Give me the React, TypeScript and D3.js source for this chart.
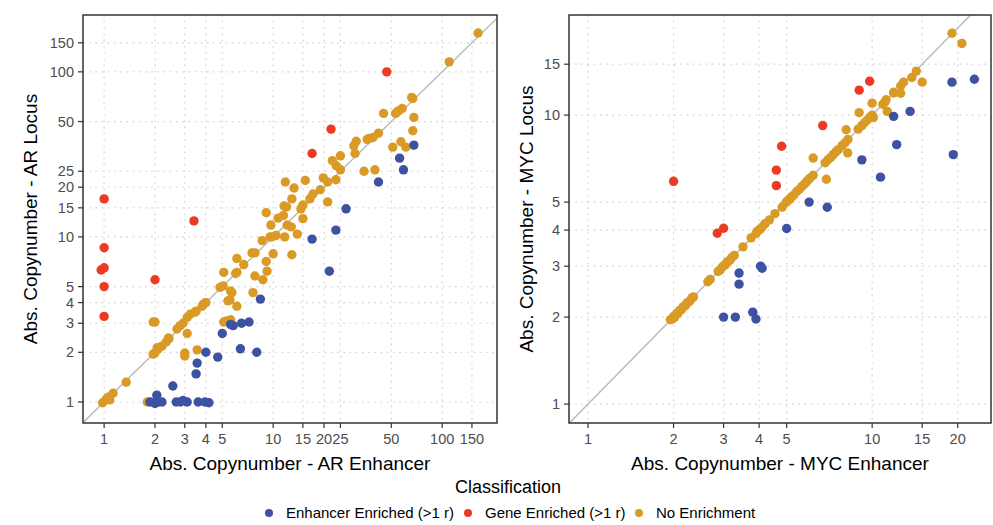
import React from "react";
import * as d3 from "d3";

// ---------- DATA ----------
const classes = ["Enhancer Enriched (>1 r)", "Gene Enriched (>1 r)", "No Enrichment"];
const classColors = ["#3D52A1", "#EE3A23", "#DA9A26"];

const arTicks = [1, 2, 3, 4, 5, 10, 15, 20, 25, 50, 100, 150];
const mycXTicks = [1, 2, 3, 4, 5, 10, 15, 20];
const mycYTicks = [1, 2, 3, 4, 5, 10, 15];

// [enhancer, locus]
const arGeneEnriched: [number, number][] = [
  [1.0, 17], [1.0, 8.6], [0.96, 6.3], [1.0, 6.5], [1.0, 5.0], [1.0, 3.3], [2.0, 5.5],
  [3.4, 12.5], [47, 100], [22, 45], [17, 32],
];
const arEnhancerEnriched: [number, number][] = [
  [68, 36], [56, 30], [59, 25.5], [42, 21.5], [27, 14.8], [23.5, 11], [17, 9.7], [21.5, 6.2],
  [8.4, 4.2], [7.2, 3.05], [6.5, 3.0], [5.8, 2.9], [5.6, 2.95], [6.4, 2.1], [8.0, 2.0], [5.0, 2.6],
  [4.0, 2.0], [4.7, 1.87], [3.55, 1.72], [3.5, 1.48], [2.55, 1.25], [1.87, 1.0], [2.0, 0.98],
  [2.05, 1.1], [2.1, 1.0], [2.2, 1.0], [2.05, 1.02], [2.67, 1.0], [2.82, 1.0], [2.93, 1.02],
  [3.1, 1.0], [3.6, 1.0], [3.95, 1.0], [4.17, 0.99],
];
const arNoEnrichment: [number, number][] = [
  [163, 172], [110, 115], [66, 70], [67, 69], [58, 60], [55, 58], [53, 56], [68, 53], [45, 56],
  [67, 44], [42, 42.5], [39, 40], [37, 39.5], [36, 39], [57, 37.7], [51, 35], [61, 35], [31, 38],
  [30, 35.6], [30.5, 32], [25, 31], [22.4, 29], [23.6, 27], [25, 25.5], [34.5, 25], [40, 25.5],
  [11.8, 21.5], [15.5, 22], [19.8, 22.8], [21, 21.5], [23.5, 22.2], [13.3, 19.8], [12.9, 17],
  [12, 15.2], [11.6, 15.4], [9.1, 14], [19, 19.3], [17.2, 18.2], [16.5, 17], [15, 15.6],
  [14.6, 14.8], [21, 16.3], [10.7, 13], [11.5, 13.5], [15, 12.9], [9.7, 11.8], [12.1, 11.8],
  [12.8, 11.5], [13.9, 10.4], [11.7, 10], [10.4, 10.2], [9.8, 10], [9.6, 10], [8.6, 9.5],
  [10, 7.9], [12.9, 7.8], [7.8, 8], [7.5, 8], [6.1, 7.4], [6.7, 6.8], [6.1, 6.1], [6.0, 6.0],
  [9.1, 7.1], [9.2, 6.2], [7.8, 5.8], [8.7, 5.5], [5.7, 4.6], [7.6, 4.6], [5.55, 4.15],
  [6.1, 3.8], [5.1, 6.1], [5.06, 5.05], [4.85, 4.95], [5.6, 4.7], [5.4, 4.1], [3.96, 3.98],
  [3.85, 3.9], [3.8, 3.8], [3.45, 3.5], [3.23, 3.4], [3.1, 3.25], [2.93, 3.0], [2.82, 2.9],
  [2.7, 2.77], [3.1, 2.6], [2.0, 3.05], [1.95, 3.05], [2.42, 2.42], [2.33, 2.31], [2.2, 2.18],
  [2.09, 2.1], [2.0, 1.98], [1.95, 1.95], [3.0, 1.98], [3.0, 1.9], [3.55, 2.07], [1.8, 1.0],
  [0.98, 0.99], [1.03, 1.04], [1.06, 1.07], [1.13, 1.13], [1.08, 1.03], [1.35, 1.32],
  [2.06, 2.13], [2.4, 2.44], [5.1, 3.05], [5.3, 3.1], [5.6, 3.15], [3.5, 3.55], [4.0, 4.0],
];

const mycGeneEnriched: [number, number][] = [
  [2.0, 5.9], [2.85, 3.9], [3.0, 4.06], [4.8, 7.8], [4.6, 6.45], [4.6, 5.7], [6.7, 9.2],
  [9.0, 12.2], [9.8, 13.1],
];
const mycEnhancerEnriched: [number, number][] = [
  [22.9, 13.3], [19.1, 13.0], [19.3, 7.3], [13.6, 10.3], [11.9, 9.9], [12.2, 7.9], [9.2, 7.0],
  [10.7, 6.1], [6.0, 5.0], [6.95, 4.8], [5.0, 4.05], [4.05, 3.0], [4.1, 2.95], [3.4, 2.84],
  [3.4, 2.6], [3.0, 2.0], [3.3, 2.0], [3.8, 2.08], [3.9, 1.97],
];
const mycNoEnrichment: [number, number][] = [
  [1.95, 1.96], [1.98, 1.97], [2.0, 2.01], [2.02, 2.0], [2.05, 2.06], [2.07, 2.06], [2.1, 2.11],
  [2.13, 2.12], [2.16, 2.17], [2.2, 2.19], [2.23, 2.24], [2.28, 2.27], [2.32, 2.33], [2.35, 2.35],
  [2.64, 2.65], [2.69, 2.7], [2.87, 2.88], [2.92, 2.91], [2.96, 2.97], [3.0, 3.01], [3.04, 3.03],
  [3.08, 3.09], [3.11, 3.12], [3.16, 3.15], [3.21, 3.22], [3.27, 3.27], [3.51, 3.5], [3.75, 3.76],
  [3.9, 3.89], [3.93, 3.95], [4.0, 4.01], [4.03, 4.02], [4.1, 4.1], [4.2, 4.21], [4.35, 4.34],
  [4.55, 4.56], [4.82, 4.8], [4.98, 4.99], [5.05, 5.06], [5.13, 5.12], [5.2, 5.21], [5.3, 5.29],
  [5.43, 5.44], [5.55, 5.54], [5.67, 5.68], [5.8, 5.79], [5.91, 5.92], [6.04, 6.05], [6.2, 6.19],
  [6.83, 6.84], [7.0, 7.01], [7.15, 7.14], [7.29, 7.3], [7.45, 7.46], [7.6, 7.59], [7.84, 7.85],
  [8.03, 8.02], [8.22, 8.23], [8.93, 8.94], [9.2, 9.19], [9.4, 9.41], [9.6, 9.6], [9.8, 9.81],
  [9.9, 9.89], [11.1, 11.1], [11.9, 11.92], [12.6, 12.61], [13.8, 13.5], [14.3, 14.2],
  [19.1, 19.2], [20.7, 17.7], [15, 13.0], [12.9, 13.0], [11.9, 12], [11.2, 11.3], [10.9, 10.9],
  [11.3, 10.3], [10, 11], [9.0, 10.2], [10, 10], [10.1, 9.8], [8.1, 8.9], [8.2, 7.4], [6.2, 7.1],
  [6.9, 6.0], [12.6, 11.9],
];

// ---------- LAYOUT ----------
const W = 993;
const H = 525;
const FONT = "'Liberation Sans', Arial, Helvetica, sans-serif";

type PanelProps = {
  id: string;
  x0: number; x1: number; y0: number; y1: number;
  xDomain: [number, number]; yDomain: [number, number];
  xTicks: number[]; yTicks: number[];
  xTitle: string; yTitle: string; yTitleX: number;
  series: [number, number][][];
};

function Panel(p: PanelProps) {
  const x = d3.scaleLog().domain(p.xDomain).range([p.x0, p.x1]);
  const y = d3.scaleLog().domain(p.yDomain).range([p.y1, p.y0]);
  const lo = Math.min(p.xDomain[0], p.yDomain[0]);
  const hi = Math.max(p.xDomain[1], p.yDomain[1]);
  const diag = d3.line<number>().x((v) => x(v)).y((v) => y(v))([lo, hi]) || "";
  const order = [2, 0, 1];
  return (
    <g>
      <defs>
        <clipPath id={p.id}>
          <rect x={p.x0} y={p.y0} width={p.x1 - p.x0} height={p.y1 - p.y0} />
        </clipPath>
      </defs>
      <rect x={p.x0} y={p.y0} width={p.x1 - p.x0} height={p.y1 - p.y0} fill="#fff" />
      {p.xTicks.map((t) => (
        <line key={"gx" + t} x1={x(t)} x2={x(t)} y1={p.y0} y2={p.y1}
          stroke="#d2d2d2" strokeWidth={1.2} strokeDasharray="1.6,4.6" />
      ))}
      {p.yTicks.map((t) => (
        <line key={"gy" + t} x1={p.x0} x2={p.x1} y1={y(t)} y2={y(t)}
          stroke="#d2d2d2" strokeWidth={1.2} strokeDasharray="1.6,4.6" />
      ))}
      <g clipPath={`url(#${p.id})`}>
        <path d={diag} stroke="#bdbdbd" strokeWidth={1.5} fill="none" />
        {order.map((ci) =>
          p.series[ci].map((d, i) => (
            <circle key={ci + "-" + i} cx={x(d[0])} cy={y(d[1])} r={4.7} fill={classColors[ci]} />
          ))
        )}
      </g>
      <rect x={p.x0} y={p.y0} width={p.x1 - p.x0} height={p.y1 - p.y0}
        fill="none" stroke="#333" strokeWidth={1.5} />
      {p.xTicks.map((t) => (
        <g key={"tx" + t}>
          <line x1={x(t)} x2={x(t)} y1={p.y1} y2={p.y1 + 5} stroke="#333" strokeWidth={1.2} />
          <text x={x(t)} y={p.y1 + 21} textAnchor="middle" fontSize={14.5} fill="#4d4d4d" fontFamily={FONT}>{t}</text>
        </g>
      ))}
      {p.yTicks.map((t) => (
        <g key={"ty" + t}>
          <line x1={p.x0 - 5} x2={p.x0} y1={y(t)} y2={y(t)} stroke="#333" strokeWidth={1.2} />
          <text x={p.x0 - 9} y={y(t) + 5} textAnchor="end" fontSize={14.5} fill="#4d4d4d" fontFamily={FONT}>{t}</text>
        </g>
      ))}
      <text x={(p.x0 + p.x1) / 2} y={p.y1 + 47} textAnchor="middle" fontSize={19} fill="#000" fontFamily={FONT}>{p.xTitle}</text>
      <text transform={`translate(${p.yTitleX},${(p.y0 + p.y1) / 2}) rotate(-90)`} textAnchor="middle"
        fontSize={19} fill="#000" fontFamily={FONT}>{p.yTitle}</text>
    </g>
  );
}

const legendDotX = [269, 468, 639];

export default function App() {
  return (
    <div style={{ position: "absolute", left: 0, top: 0 }}>
      <svg width={W} height={H} style={{ display: "block", background: "#fff" }}>
        <Panel id="clipAR" x0={83} x1={497} y0={15} y1={423}
          xDomain={[0.75, 211]} yDomain={[0.746, 221]}
          xTicks={arTicks} yTicks={arTicks}
          xTitle="Abs. Copynumber - AR Enhancer" yTitle="Abs. Copynumber - AR Locus" yTitleX={37}
          series={[arEnhancerEnriched, arGeneEnriched, arNoEnrichment]} />
        <Panel id="clipMYC" x0={569} x1={991} y0={15} y1={423}
          xDomain={[0.857, 26.2]} yDomain={[0.86, 22.2]}
          xTicks={mycXTicks} yTicks={mycYTicks}
          xTitle="Abs. Copynumber - MYC Enhancer" yTitle="Abs. Copynumber - MYC Locus" yTitleX={533}
          series={[mycEnhancerEnriched, mycGeneEnriched, mycNoEnrichment]} />
        <text x={508} y={493} textAnchor="middle" fontSize={18} fill="#000" fontFamily={FONT}>Classification</text>
        {classes.map((c, i) => (
          <g key={c}>
            <circle cx={legendDotX[i]} cy={513} r={4} fill={classColors[i]} />
            <text x={legendDotX[i] + 17} y={518} fontSize={15} fill="#000" fontFamily={FONT}>{c}</text>
          </g>
        ))}
      </svg>
    </div>
  );
}
